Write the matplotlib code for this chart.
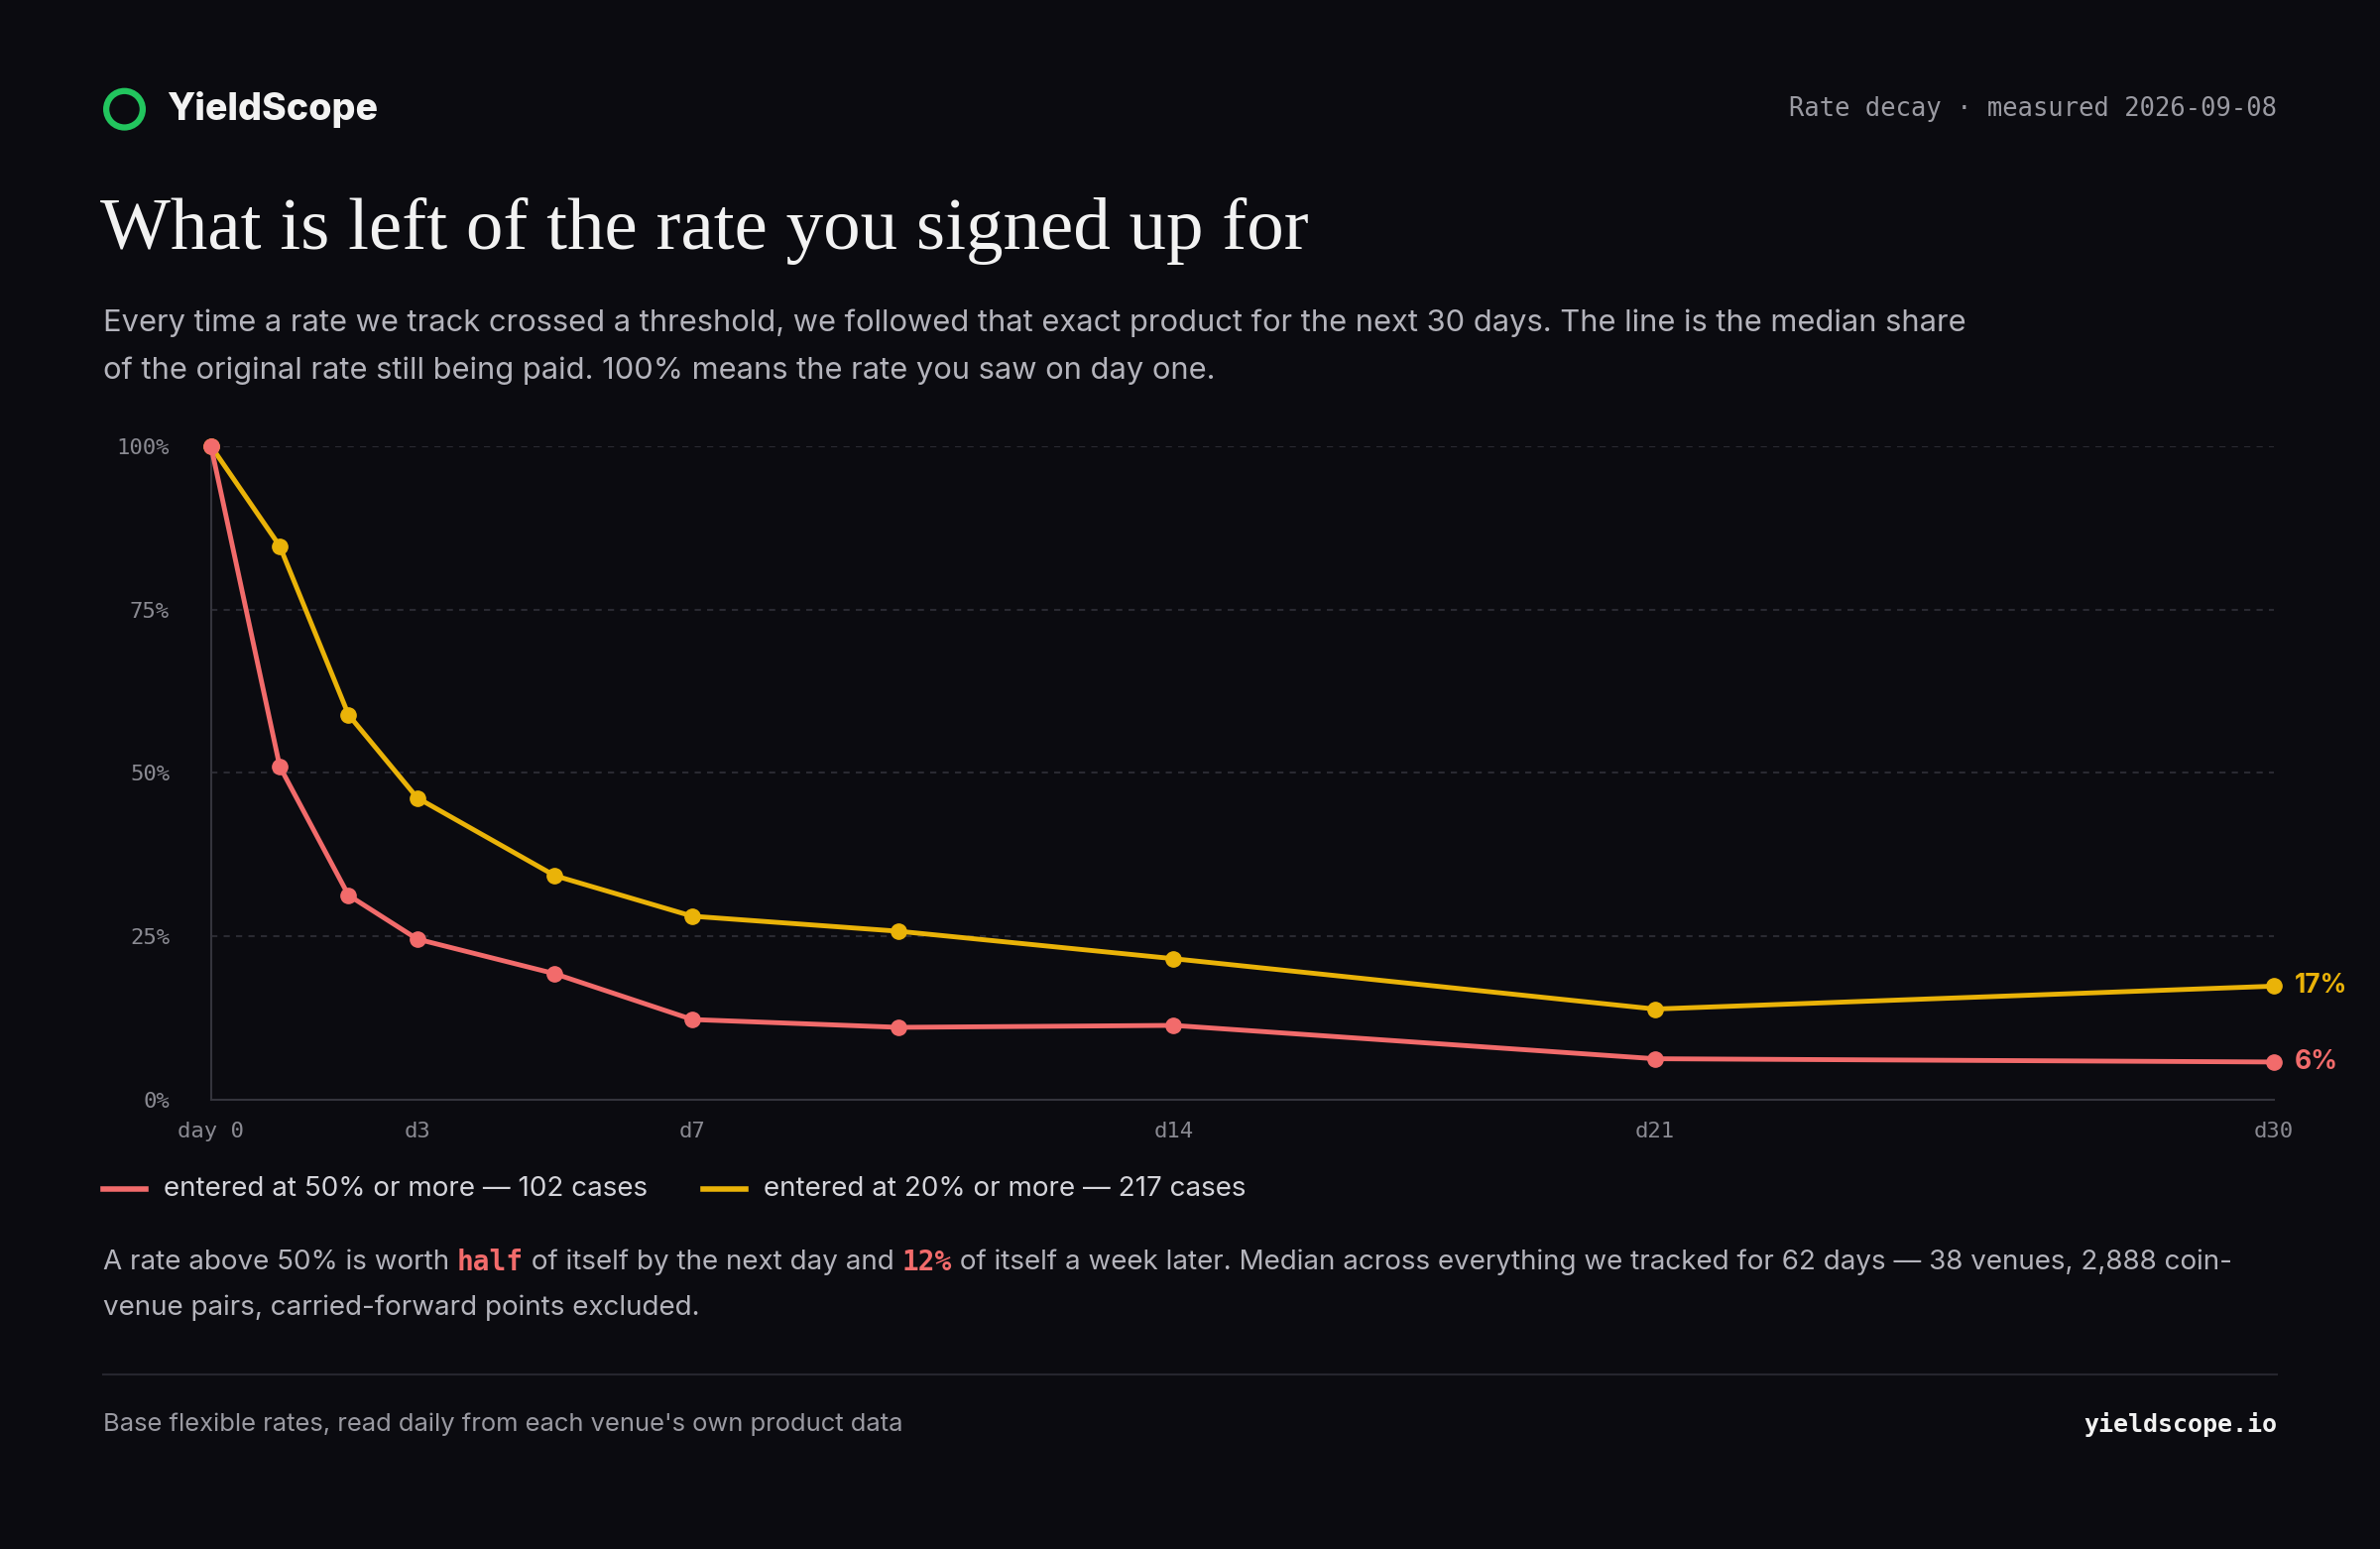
import matplotlib.pyplot as plt
from matplotlib.patches import Ellipse

days = [0, 1, 2, 3, 5, 7, 10, 14, 21, 30]
high_50 = [100, 51.0, 31.3, 24.6, 19.3, 12.3, 11.1, 11.4, 6.3, 5.8]
high_20 = [100, 84.7, 58.9, 46.2, 34.3, 28.1, 25.8, 21.6, 13.9, 17.4]
x_ticks = [0, 3, 7, 14, 21, 30]
x_labels = ["day 0", "d3", "d7", "d14", "d21", "d30"]
y_ticks = [0, 25, 50, 75, 100]

BG = "#0b0b10"
RED = "#f26b6b"
YEL = "#eab308"
W, H = 1568, 1021  # layout measured in display units


def fx(x):
    return x / W


def fy(y):
    return 1 - y / H


fig = plt.figure(figsize=(24, 15.62), dpi=100, facecolor=BG)

# header
fig.patches.append(Ellipse((fx(82), fy(72)), 24 / W, 24 / H, transform=fig.transFigure,
                           fill=False, ec="#22c55e", lw=4.5))
fig.text(fx(110), fy(72), "YieldScope", color="#f2f2f2", fontsize=27, fontweight="heavy",
         family="Inter", va="center")
fig.text(fx(1500), fy(72), "Rate decay · measured 2026-09-08", color="#9a9aa2", fontsize=18.4,
         family="DejaVu Sans Mono", va="center", ha="right")
fig.text(fx(66), fy(152), "What is left of the rate you signed up for", color="#f2f2f2",
         fontsize=54, family="Liberation Serif", va="center")
fig.text(fx(68), fy(213), "Every time a rate we track crossed a threshold, we followed that exact product for the next 30 days. The line is the median share",
         color="#b4b4bc", fontsize=22.2, family="Inter", va="center")
fig.text(fx(68), fy(244), "of the original rate still being paid. 100% means the rate you saw on day one.",
         color="#b4b4bc", fontsize=22.2, family="Inter", va="center")

# chart
ax = fig.add_axes([fx(139), fy(725), fx(1498 - 139), (725 - 294) / H])
ax.set_facecolor(BG)
ax.plot(days, high_20, color=YEL, lw=3.5, marker="o", ms=11, clip_on=False, zorder=3)
ax.plot(days, high_50, color=RED, lw=3.5, marker="o", ms=11, clip_on=False, zorder=4)
ax.set_xlim(0, 30)
ax.set_ylim(0, 100)
ax.set_xticks(x_ticks)
ax.set_xticklabels(x_labels)
ax.set_yticks(y_ticks)
ax.set_yticklabels([f"{v}%" for v in y_ticks])
for v in y_ticks[1:]:
    ax.axhline(v, color="#2a2a32", lw=1.5, ls=(0, (3, 3)), zorder=1)
for s in ["top", "right"]:
    ax.spines[s].set_visible(False)
for s in ["left", "bottom"]:
    ax.spines[s].set_color("#34343c")
    ax.spines[s].set_linewidth(1.5)
ax.tick_params(length=0, colors="#8a8a92", labelsize=16)
ax.tick_params(axis="x", pad=16)
ax.tick_params(axis="y", pad=30)
for t in ax.get_xticklabels() + ax.get_yticklabels():
    t.set_family("DejaVu Sans Mono")
ax.text(30.3, high_20[-1], f"{round(high_20[-1])}%", color=YEL, fontsize=19, fontweight="bold",
        va="center", family="Inter")
ax.text(30.3, high_50[-1], f"{round(high_50[-1])}%", color=RED, fontsize=19, fontweight="bold",
        va="center", family="Inter")

# legend
fig.lines.append(plt.Line2D([fx(68), fx(96)], [fy(784)] * 2, color=RED, lw=4, transform=fig.transFigure))
fig.text(fx(108), fy(784), "entered at 50% or more — 102 cases", color="#d4d4da", fontsize=20,
         family="Inter", va="center")
fig.lines.append(plt.Line2D([fx(463), fx(491)], [fy(784)] * 2, color=YEL, lw=4, transform=fig.transFigure))
fig.text(fx(503), fy(784), "entered at 20% or more — 217 cases", color="#d4d4da", fontsize=20,
         family="Inter", va="center")

# note
parts = [("A rate above 50% is worth ", "#b4b4bc", "Inter", "normal"),
         ("half", RED, "DejaVu Sans Mono", "bold"),
         (" of itself by the next day and ", "#b4b4bc", "Inter", "normal"),
         ("12%", RED, "DejaVu Sans Mono", "bold"),
         (" of itself a week later. Median across everything we tracked for 62 days — 38 venues, 2,888 coin-",
          "#b4b4bc", "Inter", "normal")]
fig.canvas.draw()
r = fig.canvas.get_renderer()
x = fx(68)
for txt, c, fam, wt in parts:
    t = fig.text(x, fy(832), txt, color=c, fontsize=20, family=fam, fontweight=wt, va="center")
    bb = t.get_window_extent(r)
    x += bb.width / fig.bbox.width
fig.text(fx(68), fy(862), "venue pairs, carried-forward points excluded.", color="#b4b4bc",
         fontsize=20, family="Inter", va="center")

# footer
fig.lines.append(plt.Line2D([fx(68), fx(1500)], [fy(906)] * 2, color="#26262e", lw=1.5,
                            transform=fig.transFigure))
fig.text(fx(68), fy(939), "Base flexible rates, read daily from each venue's own product data",
         color="#9a9aa2", fontsize=18.4, family="Inter", va="center")
fig.text(fx(1500), fy(939), "yieldscope.io", color="#f2f2f2", fontsize=18, fontweight="bold",
         family="DejaVu Sans Mono", va="center", ha="right")

fig.savefig("out.png", facecolor=BG)
